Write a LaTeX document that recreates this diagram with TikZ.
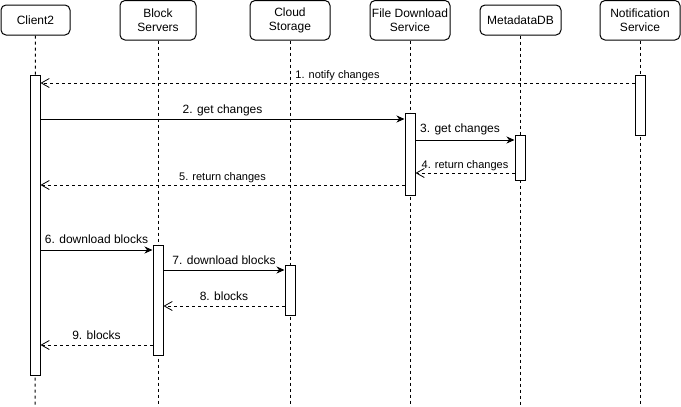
\documentclass[tikz,border=0pt]{standalone}
\usepackage{fontspec}
\setmainfont{Liberation Sans}
\usetikzlibrary{arrows.meta}
\begin{document}
\begin{tikzpicture}[x=1pt,y=-1pt,
  head/.style={draw, line width=1pt, rounded corners=5pt, align=center, inner sep=0pt,
    font=\fontsize{12}{14}\selectfont, minimum width=80pt, minimum height=39.5pt},
  life/.style={line width=1pt, dash pattern=on 3pt off 3pt},
  actbar/.style={draw, line width=1pt, fill=white, minimum width=10pt, inner sep=0pt},
  call/.style={line width=1pt, -{Stealth[length=8pt,width=7pt,inset=2.5pt]}},
  reply/.style={line width=1pt, dash pattern=on 3pt off 3pt, -{Straight Barb[length=8pt,width=9pt,line width=0.8pt]}},
  labA/.style={anchor=base, inner sep=0pt, yshift=6pt, font=\fontsize{12}{14}\selectfont},
  labB/.style={anchor=base, inner sep=0pt, yshift=4.5pt, font=\fontsize{11}{13}\selectfont}]
\useasboundingbox (0,0) rectangle (681,407);

% headers
\node[head, minimum width=69pt, minimum height=30pt] (c2) at (35.5,20) {Client2};
\node[head, minimum width=76pt] (bs) at (158,20.25) {Block\\Servers};
\node[head] (cs) at (290,20.25) {Cloud\\Storage};
\node[head] (fds) at (410,20.25) {File Download\\Service};
\node[head, minimum width=81pt, minimum height=30pt] (mdb) at (520.5,20) {MetadataDB};
\node[head] (ns) at (640,20.25) {Notification\\Service};

% lifeline ends
\coordinate (c2end) at (35,407);
\coordinate (bsend) at (158,407);
\coordinate (csend) at (290,407);
\coordinate (fdsend) at (410,407);
\coordinate (mdbend) at (520.5,407);
\coordinate (nsend) at (640,407);

\draw[life] (c2) -- (c2end);
\draw[life] (bs) -- (bsend);
\draw[life] (cs) -- (csend);
\draw[life] (fds) -- (fdsend);
\draw[life] (mdb) -- (mdbend);
\draw[life] (ns) -- (nsend);

% activation bars
\node[actbar, minimum height=300pt] (c2act) at (35,225) {};
\node[actbar, minimum height=60pt] (nsact) at (640,105) {};
\node[actbar, minimum height=82pt] (fdsact) at (410,154) {};
\node[actbar, minimum height=45pt] (mdbact) at (520,157.5) {};
\node[actbar, minimum height=110pt] (bsact) at (158,300) {};
\node[actbar, minimum height=50pt] (csact) at (290,290) {};

% messages
\draw[reply] (nsact.west |- 0,83) -- node[labB]{1. notify changes} (c2act.east |- 0,83);
\draw[call] (c2act.east |- 0,119) -- node[labA]{2. get changes} (fdsact.west |- 0,119);
\draw[call] (fdsact.east |- 0,140) -- node[labA, xshift=-5pt, yshift=2pt]{3. get changes} (mdbact.west |- 0,140);
\draw[reply] (mdbact.west |- 0,173) -- node[labB]{4. return changes} (fdsact.east |- 0,173);
\draw[reply] (fdsact.west |- 0,185) -- node[labB]{5. return changes} (c2act.east |- 0,185);
\draw[call] (c2act.east |- 0,250) -- node[labA, yshift=1pt]{6. download blocks} (bsact.west |- 0,250);
\draw[call] (bsact.east |- 0,270) -- node[labA]{7. download blocks} (csact.west |- 0,270);
\draw[reply] (csact.west |- 0,306) -- node[labA]{8. blocks} (bsact.east |- 0,306);
\draw[reply] (bsact.west |- 0,345) -- node[labA]{9. blocks} (c2act.east |- 0,345);
\end{tikzpicture}
\end{document}
